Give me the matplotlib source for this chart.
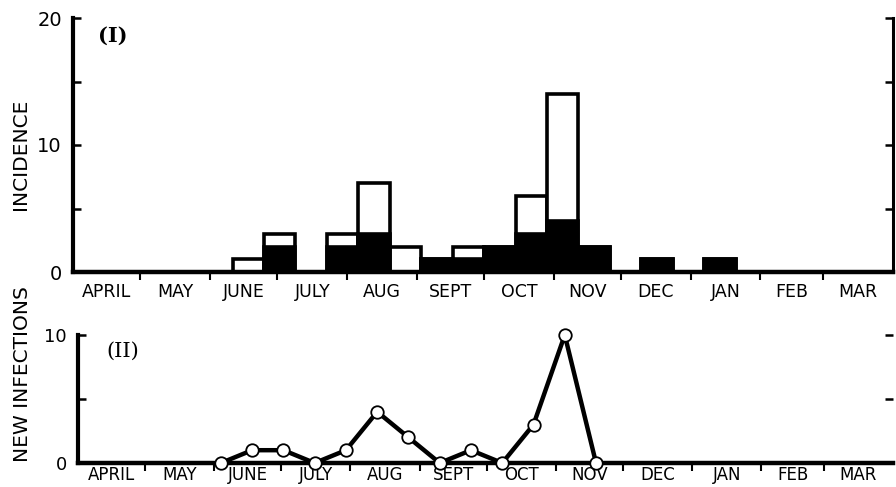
import matplotlib
matplotlib.use("Agg")
import matplotlib.pyplot as plt
import numpy as np

# months of the season, April to March (days in each)
months = ["APRIL", "MAY", "JUNE", "JULY", "AUG", "SEPT", "OCT", "NOV",
          "DEC", "JAN", "FEB", "MAR"]
month_days = [30, 31, 30, 31, 31, 30, 31, 30, 31, 31, 28, 31]

# (I) incidence per fortnight; start day counted from 1 April
fortnight_start = [71, 85, 99, 113, 127, 141, 155, 169, 183, 197, 211, 225,
                   239, 253, 267, 281]
incidence_black = [0, 2, 0, 2, 3, 0, 1, 1, 2, 3, 4, 2, 0, 1, 0, 1]
incidence_open = [1, 1, 0, 1, 4, 2, 0, 1, 0, 3, 10, 0, 0, 0, 0, 0]

# (II) new infections, fortnight mid-points
infection_day = [64, 78, 92, 106, 120, 134, 148, 162, 176, 190, 204, 218, 232]
new_infections = [0, 1, 1, 0, 1, 4, 2, 0, 1, 0, 3, 10, 0]

W, H = 896, 487
fig = plt.figure(figsize=(W / 100, H / 100), dpi=100)
fig.patch.set_facecolor("white")

ax1 = fig.add_axes([73 / W, 1 - 272 / H, (893 - 73) / W, (272 - 18) / H])
ax2 = fig.add_axes([78 / W, 1 - 463 / H, (893 - 78) / W, (463 - 335) / H])

bounds = np.concatenate([[0], np.cumsum(month_days)])
mids = (bounds[:-1] + bounds[1:]) / 2


def style(ax, ymax, yminor, right_spine, label_pad, xsize, ysize):
    ax.set_xlim(0, bounds[-1])
    ax.set_ylim(0, ymax)
    ax.spines["top"].set_visible(False)
    ax.spines["right"].set_visible(right_spine)
    ax.spines["left"].set_linewidth(3)
    ax.spines["bottom"].set_linewidth(3.2)
    ax.spines["right"].set_linewidth(2.2)
    ax.set_xticks(bounds[1:-1])
    ax.set_xticklabels([])
    ax.set_xticks(mids, minor=True)
    ax.set_xticklabels(months, minor=True, fontsize=xsize)
    ax.tick_params(axis="x", which="major", direction="out", length=6, width=1.5)
    ax.tick_params(axis="x", which="minor", length=0, pad=label_pad)
    ax.set_yticks([0, ymax / 2, ymax])
    ax.set_yticks(yminor, minor=True)
    ax.tick_params(axis="y", which="both", direction="in", length=6, width=1.8,
                   right=True, labelsize=ysize, pad=8)


style(ax1, 20, [5, 15], True, 8, 12.5, 14)
style(ax2, 10, [5], False, 2.5, 12, 13)
ax1.set_yticklabels(["0", "10", "20"])
ax2.set_yticklabels(["0", "", "10"])

start = np.array(fortnight_start)
black = np.array(incidence_black)
total = black + np.array(incidence_open)
show = total > 0
ax1.bar(start[show], total[show], width=14, align="edge", facecolor="white",
        edgecolor="black", linewidth=2.6, zorder=2)
has_black = black > 0
ax1.bar(start[has_black], black[has_black], width=14, align="edge",
        facecolor="black", edgecolor="black", linewidth=2.6, zorder=3)

ax2.plot(infection_day, new_infections, color="black", lw=3.2, marker="o",
         ms=9, mfc="white", mec="black", mew=1.3, clip_on=False, zorder=4)

ax1.text(0.03, 0.97, "(I)", transform=ax1.transAxes, family="DejaVu Serif",
         fontweight="bold", fontsize=15, va="top", ha="left")
ax2.text(0.035, 0.95, "(II)", transform=ax2.transAxes, family="DejaVu Serif",
         fontsize=15, va="top", ha="left")

fig.text(21 / W, 1 - 154 / H, "INCIDENCE", rotation=90, fontsize=14.5,
         ha="center", va="center")
fig.text(22 / W, 1 - 374 / H, "NEW INFECTIONS", rotation=90, fontsize=14.5,
         ha="center", va="center")

fig.savefig("out.png", dpi=100)
